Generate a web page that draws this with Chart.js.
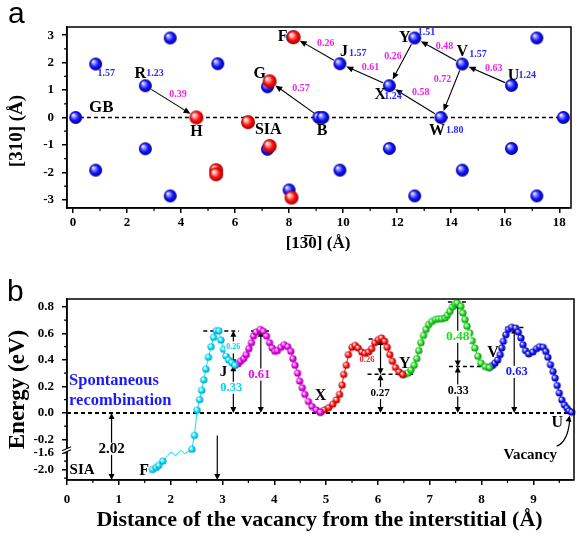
<!DOCTYPE html>
<html>
<head>
<meta charset="utf-8">
<script src="https://cdn.jsdelivr.net/npm/chart.js@4.4.0/dist/chart.umd.min.js"></script>
<style>
  body { margin: 0; background: #fff; }
  #wrap { position: relative; width: 577px; height: 537px; overflow: hidden; }
  canvas { position: absolute; left: 0; }
  #cA { top: 0; }
  #cB { top: 270px; }
</style>
</head>
<body>
<div id="wrap">
  <canvas id="cA" width="577" height="270"></canvas>
  <canvas id="cB" width="577" height="267"></canvas>
</div>
<script>
// ---------- panel a : atoms near the grain boundary (Å) ----------
const blueX = [0.1, 0.84, 0.84, 2.68, 2.68, 3.6, 3.6, 5.36, 7.2, 7.2, 8.13, 8.0, 9.1, 9.25,
  9.88, 9.88, 11.71, 11.71, 12.65, 12.65, 13.62, 14.41, 14.41, 16.23, 16.23, 17.17, 17.17, 18.15];
const blueY = [0, 1.95, -1.92, 1.16, -1.14, 2.9, -2.86, 1.96, 1.12, -1.16, 2.93, -2.64, 0, 0,
  1.96, -1.92, 1.16, -1.13, 2.9, -2.86, 0, 1.95, -1.92, 1.17, -1.13, 2.9, -2.86, 0];
const redX = [4.57, 6.48, 7.28, 7.28, 5.3, 5.3, 8.17, 8.09];
const redY = [0, -0.17, 1.32, -1.04, -1.92, -2.07, 2.93, -2.92];

const siteName = ['R', 'H', 'G', 'B', 'F', 'J', 'X', 'Y', 'W', 'V', 'U'];
const siteX = [2.68, 4.57, 7.28, 9.15, 8.17, 9.88, 11.71, 12.65, 13.62, 14.41, 16.23];
const siteY = [1.16, 0, 1.32, 0, 2.93, 1.96, 1.16, 2.9, 0, 1.95, 1.17];
const siteE = ['1.23', '', '', '', '', '1.57', '1.24', '1.51', '1.80', '1.57', '1.24'];

const hopFrom = ['R', 'B', 'J', 'X', 'Y', 'W', 'V', 'V', 'U'];
const hopTo = ['H', 'G', 'F', 'J', 'X', 'X', 'Y', 'W', 'V'];
const hopE = ['0.39', '0.57', '0.26', '0.61', '0.26', '0.58', '0.48', '0.72', '0.63'];

const xTicksA = [0, 2, 4, 6, 8, 10, 12, 14, 16, 18];
const yTicksA = [-3, -2, -1, 0, 1, 2, 3];

// ---------- panel b : energy along the path (eV) ----------
const cyanX = [1.65, 1.72, 1.77, 1.85, 2.01, 2.09, 2.19, 2.27, 2.41, 2.46, 2.51, 2.56, 2.60, 2.64,
  2.68, 2.73, 2.78, 2.83, 2.88, 2.93, 2.97, 3.02, 3.07, 3.12, 3.18, 3.24];
const cyanY = [-2.0, -1.95, -1.9, -1.8, -1.58, -1.67, -1.54, -1.62, -1.52, -0.17, 0.02, 0.10, 0.17, 0.25,
  0.33, 0.42, 0.50, 0.57, 0.62, 0.62, 0.55, 0.48, 0.43, 0.40, 0.38, 0.36];
const cyanBare = [4, 5, 6, 7];

const magX = [3.24, 3.30, 3.35, 3.41, 3.46, 3.51, 3.56, 3.60, 3.65, 3.73, 3.79, 3.85, 3.91, 3.96, 4.01,
  4.06, 4.13, 4.19, 4.26, 4.32, 4.36, 4.40, 4.45, 4.49, 4.54, 4.59, 4.66, 4.73, 4.81, 4.89];
const magY = [0.36, 0.37, 0.39, 0.41, 0.44, 0.485, 0.53, 0.58, 0.61, 0.63, 0.616, 0.58, 0.53, 0.49, 0.465,
  0.47, 0.495, 0.515, 0.50, 0.465, 0.41, 0.36, 0.30, 0.24, 0.19, 0.14, 0.086, 0.048, 0.023, 0.005];

const redBX = [4.89, 4.97, 5.05, 5.13, 5.20, 5.26, 5.31, 5.34, 5.39, 5.43, 5.50, 5.56, 5.62, 5.69,
  5.75, 5.82, 5.88, 5.94, 6.01, 6.07, 6.13, 6.18, 6.23, 6.28, 6.34, 6.41, 6.48];
const redBY = [0.005, 0.023, 0.04, 0.066, 0.098, 0.14, 0.21, 0.29, 0.36, 0.44, 0.495, 0.51, 0.49, 0.46,
  0.45, 0.46, 0.485, 0.53, 0.553, 0.566, 0.54, 0.495, 0.44, 0.39, 0.343, 0.31, 0.29];

const greenX = [6.48, 6.51, 6.58, 6.64, 6.70, 6.75, 6.79, 6.83, 6.88, 6.93, 6.98, 7.04, 7.11, 7.17, 7.23,
  7.30, 7.34, 7.39, 7.44, 7.49, 7.53, 7.60, 7.64, 7.68, 7.72, 7.77, 7.82, 7.87, 7.93, 7.99, 8.07, 8.15];
const greenY = [0.29, 0.29, 0.30, 0.325, 0.36, 0.41, 0.47, 0.53, 0.585, 0.63, 0.667, 0.69, 0.705, 0.71, 0.71,
  0.717, 0.737, 0.767, 0.80, 0.82, 0.83, 0.805, 0.755, 0.705, 0.654, 0.604, 0.545, 0.49, 0.427, 0.376, 0.35, 0.343];

const blueBX = [8.15, 8.21, 8.26, 8.31, 8.36, 8.39, 8.42, 8.47, 8.52, 8.58, 8.66, 8.71, 8.76, 8.80, 8.85,
  8.91, 8.99, 9.06, 9.12, 9.19, 9.24, 9.28, 9.33, 9.38, 9.42, 9.46, 9.50, 9.55, 9.60, 9.65, 9.69, 9.74];
const blueBY = [0.343, 0.358, 0.376, 0.40, 0.44, 0.49, 0.54, 0.59, 0.63, 0.646, 0.64, 0.61, 0.566, 0.515, 0.47,
  0.445, 0.46, 0.485, 0.50, 0.495, 0.464, 0.42, 0.364, 0.313, 0.263, 0.207, 0.15, 0.098, 0.06, 0.035, 0.015, 0.005];

const xTicksB = [0, 1, 2, 3, 4, 5, 6, 7, 8, 9];
const yTickVals = [0.8, 0.6, 0.4, 0.2, 0, -0.2, -1.6, -2.0];
const yTickLabels = ['0.8', '0.6', '0.4', '0.2', '0.0', '-0.2', '-1.6', '-2.0'];

// barrier arrows (x, from, to) and short dashed levels
const barX = [3.21, 3.21, 3.74, 6.05, 6.05, 7.54, 7.54, 8.63];
const barTop = [0.62, 0.36, 0.62, 0.558, 0.293, 0.835, 0.35, 0.645];
const barBot = [0.36, 0, 0, 0.293, 0, 0.35, 0, 0];
const lvlY = [0.618, 0.618, 0.558, 0.293, 0.838, 0.35, 0.645];
const lvlX0 = [2.63, 3.55, 5.82, 5.80, 7.35, 7.37, 8.46];
const lvlX1 = [3.32, 3.95, 6.20, 6.68, 7.75, 8.12, 8.84];

// axis break: below -1 eV the scale is compressed
function brk(v) { return v > -1 ? v : -0.3 + (v + 1.6) * 0.32; }

const SERIF = '"Liberation Serif", "Times New Roman", serif';
const f = (s, w) => (w || 'bold') + ' ' + s + 'px ' + SERIF;

function sphere(r, light, mid, dark) {
  const c = document.createElement('canvas');
  const s = Math.ceil(r * 2) + 2;
  c.width = c.height = s;
  const g = c.getContext('2d');
  const cx = s / 2, cy = s / 2;
  const gr = g.createRadialGradient(cx - r * 0.4, cy - r * 0.4, r * 0.05, cx, cy, r);
  gr.addColorStop(0, '#ffffff');
  gr.addColorStop(0.22, light);
  gr.addColorStop(0.6, mid);
  gr.addColorStop(1, dark);
  g.fillStyle = gr;
  g.beginPath(); g.arc(cx, cy, r, 0, Math.PI * 2); g.fill();
  return c;
}

function head(ctx, x, y, ang, len, hw) {
  ctx.beginPath();
  ctx.moveTo(x, y);
  ctx.lineTo(x - len * Math.cos(ang) + hw * Math.sin(ang), y - len * Math.sin(ang) - hw * Math.cos(ang));
  ctx.lineTo(x - len * Math.cos(ang) - hw * Math.sin(ang), y - len * Math.sin(ang) + hw * Math.cos(ang));
  ctx.closePath();
  ctx.fill();
}

function text(ctx, s, x, y, font, color, align, bg) {
  ctx.font = font;
  ctx.textAlign = align || 'center';
  ctx.textBaseline = 'middle';
  if (bg) {
    const w = ctx.measureText(s).width;
    const x0 = align === 'left' ? x : x - w / 2;
    ctx.fillStyle = '#fff';
    ctx.fillRect(x0 - 1, y - 6, w + 2, 12);
  }
  ctx.fillStyle = color;
  ctx.fillText(s, x, y);
}

function minorTicks(ctx, sc, vals, horiz, ca) {
  ctx.beginPath();
  vals.forEach(v => {
    const p = sc.getPixelForValue(v);
    if (horiz) { ctx.moveTo(p, ca.bottom); ctx.lineTo(p, ca.bottom + 3); }
    else { ctx.moveTo(ca.left, p); ctx.lineTo(ca.left - 3, p); }
  });
  ctx.stroke();
}

const axisCommon = {
  grid: { drawOnChartArea: false, drawTicks: true, tickLength: 5, color: '#000', lineWidth: 1.5 },
  border: { color: '#000', width: 1.5 },
};

// ---------------- chart a ----------------
const blueBall = sphere(6.5, '#9a9aff', '#1515ff', '#000090');
const redBall = sphere(7, '#ffb0b0', '#ff1010', '#a00000');

const panelA = {
  id: 'panelA',
  beforeDatasetsDraw(chart) {
    const { ctx, chartArea: ca, scales: { x, y } } = chart;
    ctx.save();
    ctx.strokeStyle = '#000';
    ctx.lineWidth = 1.5;
    ctx.setLineDash([4, 3]);
    ctx.beginPath();
    ctx.moveTo(x.getPixelForValue(0), y.getPixelForValue(0));
    ctx.lineTo(ca.right, y.getPixelForValue(0));
    ctx.stroke();
    ctx.restore();
  },
  afterDatasetsDraw(chart) {
    const { ctx, scales: { x, y } } = chart;
    const site = n => {
      const i = siteName.indexOf(n);
      return [x.getPixelForValue(siteX[i]), y.getPixelForValue(siteY[i])];
    };
    ctx.save();
    ctx.lineWidth = 1.1;
    const hopOff = [[7, -7], [6, -11], [9, -7], [6, -7], [-9, -5], [5.5, -9], [6, -5], [-9, -11], [7, -6]];
    hopFrom.forEach((a, i) => {
      const [x0, y0] = site(a), [x1, y1] = site(hopTo[i]);
      const ang = Math.atan2(y1 - y0, x1 - x0);
      const sx = x0 + 7 * Math.cos(ang), sy = y0 + 7 * Math.sin(ang);
      const ex = x1 - 7 * Math.cos(ang), ey = y1 - 7 * Math.sin(ang);
      ctx.strokeStyle = '#000'; ctx.fillStyle = '#000';
      ctx.beginPath(); ctx.moveTo(sx, sy); ctx.lineTo(ex - 5 * Math.cos(ang), ey - 5 * Math.sin(ang)); ctx.stroke();
      head(ctx, ex, ey, ang, 7, 3);
      const o = hopOff[i];
      text(ctx, hopE[i], (x0 + x1) / 2 + o[0], (y0 + y1) / 2 + o[1], f(10), '#f020f0');
    });
    const nameOff = { R: [-5, -12], H: [0, 14], G: [-10, -7], B: [2, 13], F: [-11, 0], J: [4, -12],
      X: [-9, 9], Y: [-10, 0], W: [-4, 13], V: [0, -12], U: [2, -10] };
    const eOff = { R: [1, -12], J: [9, -10], X: [-5, 11], Y: [3, -6], W: [5, 13], V: [7, -10], U: [7, -10] };
    siteName.forEach((n, i) => {
      const [px, py] = site(n);
      const o = nameOff[n];
      text(ctx, n, px + o[0], py + o[1], f(16), '#000');
      if (siteE[i]) text(ctx, siteE[i], px + eOff[n][0], py + eOff[n][1], f(10), '#2828ff', 'left');
    });
    text(ctx, '1.57', x.getPixelForValue(0.91), y.getPixelForValue(1.62), f(10), '#2828ff', 'left');
    text(ctx, 'GB', x.getPixelForValue(1.05), y.getPixelForValue(0.37), f(17), '#000');
    text(ctx, 'SIA', x.getPixelForValue(7.23), y.getPixelForValue(-0.45), f(16), '#000');
    ctx.restore();
  },
  afterDraw(chart) {
    const { ctx, chartArea: ca, scales: { x, y } } = chart;
    ctx.save();
    ctx.strokeStyle = '#000';
    ctx.lineWidth = 1.5;
    ctx.strokeRect(ca.left, ca.top, ca.right - ca.left + 2, ca.bottom - ca.top);
    ctx.lineWidth = 1.2;
    minorTicks(ctx, x, [1, 3, 5, 7, 9, 11, 13, 15, 17], true, ca);
    minorTicks(ctx, y, [-2.5, -1.5, -0.5, 0.5, 1.5, 2.5], false, ca);
    // axis title drawn by hand so it can sit a little below the axis centre, as in the figure
    ctx.translate(17, 131);
    ctx.rotate(-Math.PI / 2);
    text(ctx, '[310] (\u00c5)', 0, 0, f(19), '#000');
    ctx.setTransform(1, 0, 0, 1, 0, 0);
    ctx.font = '30px "Liberation Sans", Arial, sans-serif';
    ctx.fillStyle = '#000';
    ctx.textAlign = 'left';
    ctx.textBaseline = 'alphabetic';
    ctx.fillText('a', 8, 23);
    ctx.restore();
  }
};

new Chart(document.getElementById('cA'), {
  type: 'scatter',
  data: {
    datasets: [
      { data: redX.map((v, i) => ({ x: v, y: redY[i] })), pointStyle: redBall, pointRadius: 7, clip: false },
      { data: blueX.map((v, i) => ({ x: v, y: blueY[i] })), pointStyle: blueBall, pointRadius: 6.5, clip: false },
    ]
  },
  options: {
    responsive: false,
    animation: false,
    devicePixelRatio: 1,
    events: [],
    layout: { padding: { top: 27, right: 0, left: 0, bottom: 0 } },
    plugins: { legend: { display: false }, tooltip: { enabled: false } },
    scales: {
      x: {
        ...axisCommon,
        type: 'linear', min: -0.22, max: 18.36,
        afterBuildTicks: s => { s.ticks = xTicksA.map(v => ({ value: v })); },
        afterFit: s => { s.height = 62; },
        ticks: { font: { family: SERIF, size: 13, weight: 'bold' }, color: '#000', padding: 2, autoSkip: false, maxRotation: 0 },
        title: { display: true, text: '[13\u03050] (\u00c5)', font: { family: SERIF, size: 17, weight: 'bold' }, color: '#000', padding: { top: 0, bottom: 16 } },
      },
      y: {
        ...axisCommon,
        type: 'linear', min: -3.3, max: 3.3,
        afterBuildTicks: s => { s.ticks = yTicksA.map(v => ({ value: v })); },
        afterFit: s => { s.width = 67; },
        ticks: { font: { family: SERIF, size: 13, weight: 'bold' }, color: '#000', padding: 8, autoSkip: false },
        title: { display: false },
      }
    }
  },
  plugins: [panelA]
});

// ---------------- chart b ----------------
const ball = (l, m, d) => sphere(3.6, l, m, d);
const curves = [
  { x: cyanX, y: cyanY, color: '#00e4ff', img: ball('#b0ffff', '#00e0ff', '#0090b0') },
  { x: magX, y: magY, color: '#ff00ff', img: ball('#ffb0ff', '#f000f0', '#900090') },
  { x: redBX, y: redBY, color: '#ff0000', img: ball('#ffb0b0', '#ff1010', '#a00000') },
  { x: greenX, y: greenY, color: '#22dd22', img: ball('#b0ffb0', '#22dd22', '#108810') },
  { x: blueBX, y: blueBY, color: '#1010ff', img: ball('#a0a0ff', '#1414ff', '#00008a') },
];

const panelB = {
  id: 'panelB',
  beforeDatasetsDraw(chart) {
    const { ctx, chartArea: ca, scales: { x, y } } = chart;
    const X = v => x.getPixelForValue(v), Y = v => y.getPixelForValue(brk(v));
    ctx.save();
    ctx.strokeStyle = '#000';
    ctx.fillStyle = '#000';
    ctx.lineWidth = 2;
    ctx.setLineDash([4, 3]);
    ctx.beginPath(); ctx.moveTo(ca.left, Y(0)); ctx.lineTo(ca.right, Y(0)); ctx.stroke();
    ctx.lineWidth = 1.5;
    lvlY.forEach((v, i) => {
      ctx.beginPath(); ctx.moveTo(X(lvlX0[i]), Y(v)); ctx.lineTo(X(lvlX1[i]), Y(v)); ctx.stroke();
    });
    ctx.setLineDash([]);
    ctx.lineWidth = 1.2;
    barX.forEach((bx, i) => {
      const px = X(bx), t = Y(barTop[i]), b = Y(barBot[i]);
      ctx.beginPath(); ctx.moveTo(px, t + 4); ctx.lineTo(px, b - 4); ctx.stroke();
      head(ctx, px, t, -Math.PI / 2, 6, 3);
      head(ctx, px, b, Math.PI / 2, 6, 3);
    });
    // 2.02 eV recombination drop
    const p = X(0.86);
    ctx.beginPath(); ctx.moveTo(p, Y(0) + 4); ctx.lineTo(p, ca.bottom - 4); ctx.stroke();
    head(ctx, p, Y(0), -Math.PI / 2, 6, 3);
    head(ctx, p, ca.bottom, Math.PI / 2, 6, 3);
    const q = X(2.9);
    ctx.beginPath(); ctx.moveTo(q, Y(-0.17)); ctx.lineTo(q, ca.bottom - 4); ctx.stroke();
    head(ctx, q, ca.bottom, Math.PI / 2, 6, 3);
    ctx.restore();
  },
  afterDatasetsDraw(chart) {
    const { ctx, scales: { x, y } } = chart;
    const X = v => x.getPixelForValue(v), D = v => y.getPixelForValue(v);
    ctx.save();
    text(ctx, 'Spontaneous', X(0.04), D(0.245), f(16.5), '#1a1aff', 'left');
    text(ctx, 'recombination', X(0.04), D(0.09), f(16.5), '#1a1aff', 'left');
    text(ctx, '2.02', X(0.86), D(-0.27), f(15), '#000', 'center', true);
    text(ctx, 'SIA', X(0.05), D(-0.43), f(15), '#000', 'left');
    text(ctx, 'F', X(1.49), D(-0.44), f(16), '#000');
    text(ctx, 'J', X(3.02), D(0.31), f(15), '#000');
    text(ctx, '0.26', X(3.21), D(0.495), f(8), '#00d8f0', 'center', true);
    text(ctx, '0.33', X(3.17), D(0.19), f(12.5), '#00d8f0', 'center', true);
    text(ctx, '0.61', X(3.71), D(0.29), f(12.5), '#f000f0', 'center', true);
    text(ctx, 'X', X(4.89), D(0.13), f(16), '#000');
    text(ctx, '0.26', X(5.79), D(0.40), f(8.5), '#ff2020');
    text(ctx, '0.27', X(6.04), D(0.15), f(11), '#000', 'center', true);
    text(ctx, 'Y', X(6.52), D(0.37), f(16), '#000');
    text(ctx, '0.48', X(7.54), D(0.575), f(13.5), '#22dd22', 'center', true);
    text(ctx, '0.33', X(7.55), D(0.17), f(12), '#000', 'center', true);
    text(ctx, 'V', X(8.22), D(0.45), f(16), '#000');
    text(ctx, '0.63', X(8.68), D(0.31), f(12.5), '#1414ff', 'center', true);
    text(ctx, 'U', X(9.46), D(-0.075), f(16), '#000');
    text(ctx, 'Vacancy', X(8.94), D(-0.317), f(15), '#000');
    // curved pointer to the vacancy
    ctx.strokeStyle = '#000';
    ctx.fillStyle = '#000';
    ctx.lineWidth = 1.2;
    const sx = X(9.45), sy = D(-0.25), ex = X(9.7), ey = D(-0.02);
    ctx.beginPath(); ctx.moveTo(sx, sy); ctx.quadraticCurveTo(ex - 2, sy - 4, ex, ey + 5); ctx.stroke();
    head(ctx, ex, ey, -Math.PI / 2 + 0.2, 6, 3);
    ctx.restore();
  },
  afterDraw(chart) {
    const { ctx, chartArea: ca, scales: { x, y } } = chart;
    ctx.save();
    ctx.strokeStyle = '#000';
    ctx.lineWidth = 1.5;
    ctx.strokeRect(ca.left, ca.top, ca.right - ca.left + 2, ca.bottom - ca.top);
    ctx.lineWidth = 1.2;
    minorTicks(ctx, x, [0.5, 1.5, 2.5, 3.5, 4.5, 5.5, 6.5, 7.5, 8.5, 9.5], true, ca);
    minorTicks(ctx, y, [0.7, 0.5, 0.3, 0.1, -0.1, -1.8, -2.2].map(brk), false, ca);
    // break mark on the energy axis
    const by = y.getPixelForValue(brk(-1.6)) - 2;
    ctx.fillStyle = '#fff';
    ctx.beginPath();
    ctx.moveTo(ca.left - 5, by + 3); ctx.lineTo(ca.left + 4, by - 1);
    ctx.lineTo(ca.left + 4, by - 4); ctx.lineTo(ca.left - 5, by); ctx.closePath(); ctx.fill();
    ctx.beginPath();
    ctx.moveTo(ca.left - 5, by + 3); ctx.lineTo(ca.left + 4, by - 1);
    ctx.moveTo(ca.left - 5, by); ctx.lineTo(ca.left + 4, by - 4);
    ctx.stroke();
    ctx.font = '30px "Liberation Sans", Arial, sans-serif';
    ctx.fillStyle = '#000';
    ctx.textAlign = 'left';
    ctx.textBaseline = 'alphabetic';
    ctx.fillText('b', 7, 31);
    ctx.restore();
  }
};

new Chart(document.getElementById('cB'), {
  type: 'line',
  data: {
    datasets: curves.map((c, k) => ({
      data: c.x.map((v, i) => ({ x: v, y: brk(c.y[i]) })),
      borderColor: c.color,
      borderWidth: 1,
      pointStyle: c.img,
      pointRadius: k === 0 ? c.x.map((_, i) => cyanBare.includes(i) ? 0 : 3.6) : 3.6,
      tension: 0,
      clip: false,
    }))
  },
  options: {
    responsive: false,
    animation: false,
    devicePixelRatio: 1,
    events: [],
    layout: { padding: { top: 29, right: 0, left: 0, bottom: 0 } },
    plugins: { legend: { display: false }, tooltip: { enabled: false } },
    scales: {
      x: {
        ...axisCommon,
        type: 'linear', min: 0, max: 9.745,
        afterBuildTicks: s => { s.ticks = xTicksB.map(v => ({ value: v })); },
        afterFit: s => { s.height = 57; },
        ticks: { font: { family: SERIF, size: 13, weight: 'bold' }, color: '#000', padding: 7, autoSkip: false, maxRotation: 0 },
        title: { display: true, text: 'Distance of the vacancy from the interstitial (\u00c5)', font: { family: SERIF, size: 22, weight: 'bold' }, color: '#000', padding: { top: 0, bottom: 3 } },
      },
      y: {
        ...axisCommon,
        type: 'linear', min: -0.506, max: 0.86,
        afterBuildTicks: s => { s.ticks = yTickVals.map(v => ({ value: brk(v) })); },
        afterFit: s => { s.width = 67; },
        ticks: { font: { family: SERIF, size: 13, weight: 'bold' }, color: '#000', padding: 8, autoSkip: false, callback: (v, i) => yTickLabels[i] },
        title: { display: true, text: 'Energy (eV)', font: { family: SERIF, size: 23, weight: 'bold' }, color: '#000', padding: { top: 4, bottom: 0 } },
      }
    }
  },
  plugins: [panelB]
});
</script>
</body>
</html>
